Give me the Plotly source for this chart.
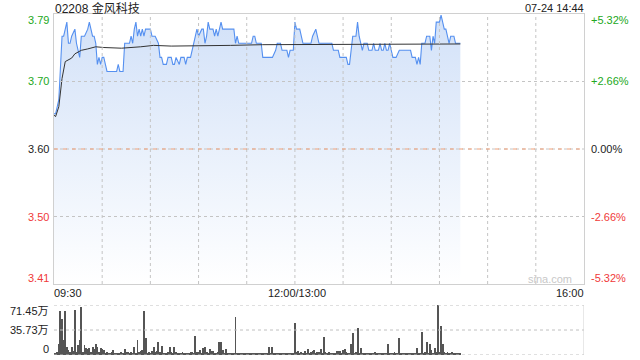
import plotly.graph_objects as go

# ---------------- data ----------------
stock_title = "02208 金风科技"
stamp = "07-24 14:44"
prev_close = 3.60
pct_range = 0.0532

# trading minutes from 09:30 (lunch break collapsed: 150 = 12:00/13:00, 330 = 16:00)
price_t = [0, 1, 3, 5, 6, 7, 8, 9, 10, 11, 13, 14, 15, 16, 17, 19, 21, 22, 24, 25, 26, 27, 28, 29, 30,
           31, 32, 33, 39, 40, 41, 43, 44, 47, 48, 49, 50, 51, 52, 53, 54, 55, 56, 57, 60, 61, 63, 65,
           66, 67, 68, 70, 71, 73, 74, 75, 76, 78, 79, 81, 82, 83, 85, 86, 87, 89, 90, 92, 93, 94, 95,
           96, 97, 99, 100, 101, 102, 103, 104, 105, 112, 113, 114, 115, 123, 124, 125, 126, 129, 130,
           136, 138, 139, 141, 142, 145, 146, 147, 149, 150, 151, 153, 154, 155, 160, 161, 163, 164,
           165, 173, 174, 177, 178, 182, 183, 184, 185, 186, 188, 189, 190, 191, 192, 193, 195, 196,
           198, 199, 200, 202, 203, 204, 205, 206, 207, 208, 209, 210, 211, 213, 215, 222, 223, 225,
           226, 227, 228, 229, 231, 232, 234, 235, 236, 237, 238, 240, 241, 242, 243, 244, 245, 246,
           247, 249, 250, 253]
price_v = [3.65, 3.65, 3.67, 3.76, 3.76, 3.77, 3.78, 3.75, 3.75, 3.76, 3.77, 3.75, 3.74, 3.73, 3.76,
           3.76, 3.77, 3.78, 3.76, 3.76, 3.75, 3.72, 3.73, 3.72, 3.73,
           3.73, 3.72, 3.71, 3.71, 3.72, 3.71, 3.71, 3.75, 3.75, 3.76, 3.75, 3.77, 3.78, 3.76, 3.77,
           3.76, 3.77, 3.76, 3.77, 3.77, 3.76, 3.76, 3.75,
           3.73, 3.73, 3.72, 3.72, 3.73, 3.73, 3.72, 3.72, 3.73, 3.72, 3.73, 3.73, 3.72, 3.73, 3.73,
           3.74, 3.75, 3.77, 3.76, 3.77, 3.77, 3.75, 3.76,
           3.78, 3.77, 3.77, 3.76, 3.77, 3.76, 3.77, 3.78, 3.77, 3.77, 3.75, 3.76, 3.75, 3.75, 3.76,
           3.76, 3.75, 3.75, 3.73,
           3.73, 3.74, 3.75, 3.75, 3.74, 3.74, 3.73, 3.74, 3.74, 3.78, 3.77, 3.77, 3.76, 3.75, 3.75,
           3.76, 3.77, 3.76,
           3.75, 3.75, 3.74, 3.74, 3.73, 3.73, 3.72, 3.72, 3.74, 3.76, 3.76, 3.78, 3.76, 3.75, 3.74,
           3.75, 3.75, 3.74,
           3.74, 3.75, 3.74, 3.74, 3.75, 3.74, 3.74, 3.75, 3.74, 3.74, 3.75, 3.74, 3.73, 3.73, 3.74,
           3.74, 3.73, 3.73,
           3.72, 3.73, 3.72, 3.75, 3.75, 3.76, 3.76, 3.74, 3.76, 3.75, 3.78, 3.78, 3.79, 3.78, 3.77,
           3.77, 3.76, 3.75,
           3.76, 3.76, 3.75, 3.75]

avg_t = [0, 1, 3, 5, 7, 9, 11, 13, 15, 17, 21, 26, 31, 42, 54, 62, 73, 87, 110, 130, 150, 200, 253]
avg_v = [3.648, 3.646, 3.66, 3.70, 3.724, 3.727, 3.729, 3.735, 3.737, 3.740, 3.742, 3.745, 3.744,
         3.743, 3.745, 3.747, 3.746, 3.746, 3.747, 3.748, 3.748, 3.749, 3.749]

# volume per minute (unit: 万)
volume = [3, 2, 4, 16, 63, 51, 22, 63, 11, 7,
          5, 11, 6, 64, 4, 14, 22, 69, 5, 14,
          10, 8, 10, 4, 11, 8, 16, 11, 4, 10,
          8, 7, 3, 4, 2, 3, 4, 7, 3, 2,
          3, 2, 4, 3, 8, 5, 5, 3, 5, 2,
          11, 3, 22, 4, 6, 7, 63, 24, 3, 4,
          3, 6, 11, 4, 6, 19, 5, 13, 2, 3,
          2, 4, 11, 5, 3, 11, 5, 2, 3, 2,
          5, 3, 2, 3, 2, 4, 5, 3, 27, 4,
          5, 7, 3, 10, 11, 5, 3, 9, 6, 6,
          3, 2, 5, 18, 19, 7, 3, 8, 2, 3,
          2, 3, 2, 55, 3, 2, 2, 3, 2, 2,
          3, 2, 2, 3, 2, 3, 2, 2, 3, 2,
          3, 2, 2, 3, 11, 2, 11, 3, 3, 2,
          2, 3, 2, 2, 3, 2, 2, 3, 2, 2,
          46, 4, 6, 3, 4, 3, 6, 3, 8, 3,
          4, 6, 7, 3, 4, 5, 8, 3, 26, 4,
          3, 5, 2, 3, 2, 3, 6, 6, 6, 3,
          7, 8, 5, 2, 3, 16, 32, 3, 4, 38,
          3, 10, 2, 3, 2, 2, 3, 2, 3, 2,
          5, 2, 3, 2, 3, 2, 3, 2, 16, 3,
          2, 3, 5, 2, 3, 25, 3, 2, 3, 2,
          3, 2, 3, 2, 3, 3, 10, 2, 3, 33,
          3, 4, 18, 3, 16, 7, 3, 10, 4, 71.45,
          5, 41, 16, 5, 3, 4, 3, 2, 5, 3,
          2, 3, 2, 2]
vol_max = 71.45

left_labels = ["3.41", "3.50", "3.60", "3.70", "3.79"]
right_labels = ["-5.32%", "-2.66%", "0.00%", "+2.66%", "+5.32%"]
label_colors = ["#f03a3a", "#f03a3a", "#222222", "#22a822", "#22a822"]
time_labels = ["09:30", "12:00/13:00", "16:00"]
time_pos = [0, 150, 330]
vol_labels = ["0", "35.73万", "71.45万"]

# ---------------- figure ----------------
W, H = 640, 360
L, R = 54, 584
top_main, bot_main = 14, 284
top_vol, bot_vol = 305, 355
ymin = prev_close * (1 - pct_range)
ymax = prev_close * (1 + pct_range)
levels = [ymin, prev_close - (prev_close - ymin) / 2, prev_close,
          prev_close + (ymax - prev_close) / 2, ymax]

FONT = "Liberation Sans, Arial, Noto Sans CJK SC, sans-serif"

fig = go.Figure()
fig.add_trace(go.Scatter(
    x=price_t, y=price_v, mode="lines",
    line=dict(color="#5590f0", width=1.1),
    fill="tozeroy",
    fillgradient=dict(type="vertical", start=ymin, stop=ymax,
                      colorscale=[[0, "rgba(255,255,255,1)"], [1, "#d2e1f8"]]),
    hoverinfo="skip", xaxis="x", yaxis="y"))
fig.add_trace(go.Scatter(
    x=avg_t, y=avg_v, mode="lines", line=dict(color="#333333", width=1),
    hoverinfo="skip", xaxis="x", yaxis="y"))
fig.add_trace(go.Bar(
    x=list(range(len(volume))), y=volume, width=0.6,
    marker=dict(color="#555555", line=dict(width=0)),
    hoverinfo="skip", xaxis="x2", yaxis="y2"))

xd = [L / W, R / W]
fig.update_layout(
    width=W, height=H, margin=dict(l=0, r=0, t=0, b=0),
    paper_bgcolor="white", plot_bgcolor="white", showlegend=False, bargap=0,
    font=dict(family=FONT, size=11, color="#222"),
    xaxis=dict(domain=xd, range=[0, 330], showticklabels=False, ticks="", showgrid=False,
               zeroline=False, showline=True, linecolor="#d0d0d0", linewidth=1, mirror=True),
    yaxis=dict(domain=[1 - bot_main / H, 1 - top_main / H], range=[ymin, ymax],
               showticklabels=False, ticks="", showgrid=False, zeroline=False,
               showline=True, linecolor="#d0d0d0", linewidth=1, mirror=True),
    xaxis2=dict(domain=xd, range=[0, 330], showticklabels=False, ticks="",
                showgrid=False, zeroline=False, showline=False),
    yaxis2=dict(domain=[1 - bot_vol / H, 1 - top_vol / H], range=[0, vol_max],
                showticklabels=False, ticks="", showgrid=False, zeroline=False,
                showline=False),
)

shapes = []
grid = dict(color="#c4c4c4", width=1, dash="dot")
# vertical grid every 30 trading minutes, drawn above the fill
for gx in range(30, 330, 30):
    shapes.append(dict(type="line", xref="x", yref="y", x0=gx, x1=gx, y0=ymin, y1=ymax,
                       line=grid, layer="above"))
for lv in levels[1:4]:
    shapes.append(dict(type="line", xref="x", yref="y", x0=0, x1=330, y0=lv, y1=lv,
                       line=grid, layer="above"))
# previous close dashed line
shapes.append(dict(type="line", xref="x", yref="y", x0=0, x1=330, y0=prev_close, y1=prev_close,
                   line=dict(color="#f0a078", width=1, dash="4px,5px"), layer="above"))
# volume panel lines
for v in [vol_max, vol_max / 2, 0]:
    shapes.append(dict(type="line", xref="x2", yref="y2", x0=0, x1=330, y0=v, y1=v,
                       line=dict(color="#c0c0c0", width=1, dash="dot")))
shapes.append(dict(type="line", xref="x2", yref="y2", x0=330, x1=330, y0=0, y1=vol_max,
                   line=dict(color="#d0d0d0", width=1)))
fig.update_layout(shapes=shapes)

ann = []
for i, lv in enumerate(levels):
    shift = 6 if i == 0 else (-6 if i == 4 else 0)
    ann.append(dict(xref="paper", yref="y", x=51 / W, y=lv, yshift=shift, text=left_labels[i],
                    showarrow=False, xanchor="right", yanchor="middle",
                    font=dict(size=11, color=label_colors[i])))
    ann.append(dict(xref="paper", yref="y", x=589 / W, y=lv, yshift=shift, text=right_labels[i],
                    showarrow=False, xanchor="left", yanchor="middle",
                    font=dict(size=11, color=label_colors[i])))
for lab, tp in zip(time_labels, time_pos):
    anc = "left" if tp == 0 else ("right" if tp == 330 else "center")
    ann.append(dict(xref="x", yref="paper", x=tp, y=1 - 293 / H, text=lab, showarrow=False,
                    xanchor=anc, yanchor="middle", xshift=(-2 if tp == 0 else 2),
                    font=dict(size=11, color="#222")))
for lab, v, sh in zip(vol_labels, [0, vol_max / 2, vol_max], [6, 0, -6]):
    ann.append(dict(xref="paper", yref="y2", x=51 / W, y=v, yshift=sh, text=lab, showarrow=False,
                    xanchor="right", yanchor="middle", font=dict(size=11, color="#222")))
ann.append(dict(xref="paper", yref="paper", x=L / W, y=1 - 8 / H, text=stock_title,
                showarrow=False, xanchor="left", yanchor="middle", xshift=-1,
                font=dict(size=12, color="#222")))
ann.append(dict(xref="paper", yref="paper", x=R / W, y=1 - 8 / H, text=stamp,
                showarrow=False, xanchor="right", yanchor="middle", xshift=2,
                font=dict(size=11, color="#222")))
ann.append(dict(xref="paper", yref="paper", x=574 / W, y=1 - 279 / H, text="sina.com",
                showarrow=False, xanchor="right", yanchor="middle",
                font=dict(size=11, color="#c8c8c8")))
fig.update_layout(annotations=ann)

fig.write_html("out.html")
